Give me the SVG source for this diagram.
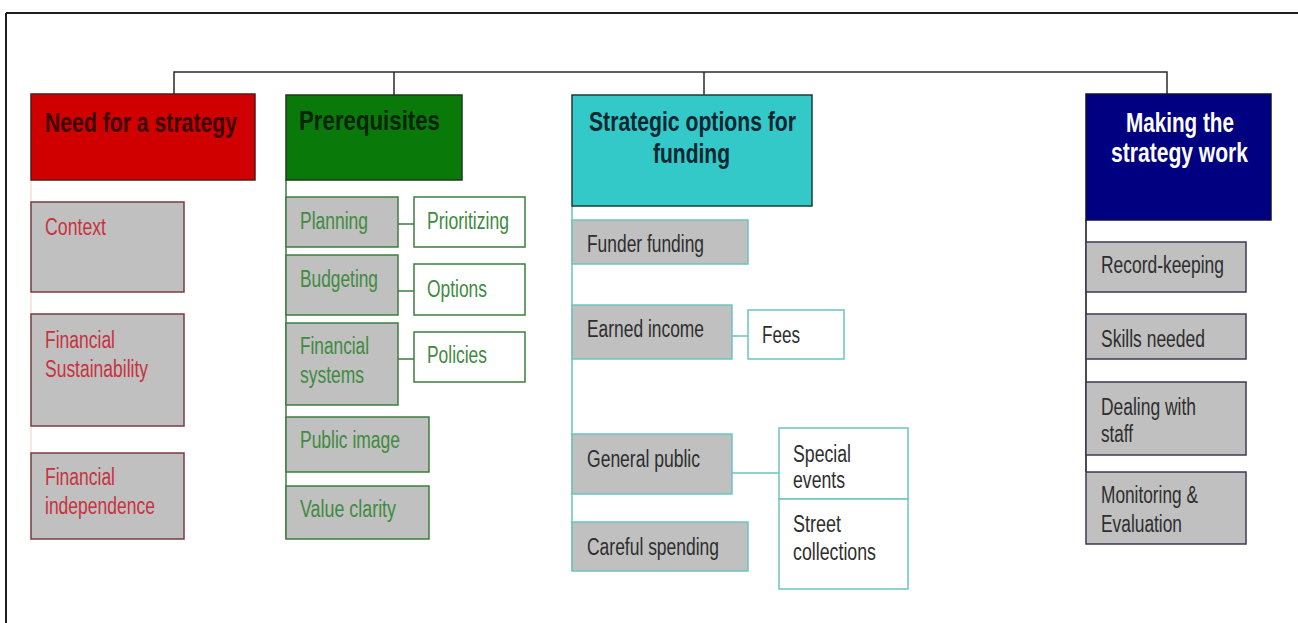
<svg xmlns="http://www.w3.org/2000/svg" width="1298" height="623" viewBox="0 0 1298 623">
<style>
text{font-family:"Liberation Sans",Arial,sans-serif;}
.hd{font-weight:bold;font-size:27px;}
.t{font-size:23px;}
.red .box{fill:#c0c0c0;stroke:#7a3c44;stroke-width:1.5;}
.red text{fill:#c8323e;}
.grn .box{fill:#c0c0c0;stroke:#3d7d3d;stroke-width:1.5;}
.grn .wbox{fill:#fff;stroke:#3d7d3d;stroke-width:1.5;}
.grn text{fill:#3f8a3f;}
.cyn .box{fill:#c0c0c0;stroke:#6cc4c4;stroke-width:1.5;}
.cyn .wbox{fill:#fff;stroke:#6cc4c4;stroke-width:1.5;}
.cyn text,.nav text{fill:#2e2e2e;}
.nav .box{fill:#c0c0c0;stroke:#3a3a58;stroke-width:1.5;}
</style>
<rect width="1298" height="623" fill="#fff"/>
<g id="frame" fill="none" stroke="#1e1e1e" stroke-width="2">
<path d="M6 13H1298M6 13V623"/>
</g>
<g id="connectors" fill="none" stroke-width="1.5">
<path d="M174 94V72H1167V94M394 72V95M704 72V95" stroke="#2a2a2a"/>
<path d="M31 180V539" stroke="#f6dede"/>
<path d="M286 180V539M398 224H414M398 291H414M398 359H414" stroke="#3d7d3d"/>
<path d="M572 206V571M732 336H748M732 473H779" stroke="#6cc4c4"/>
<path d="M1086 220V472" stroke="#111"/>
</g>
<g id="need" class="red">
<rect x="31" y="94" width="224" height="86" fill="#d00000" stroke="#5a1818" stroke-width="1.5"/>
<text class="hd" x="45" y="132" textLength="192" lengthAdjust="spacingAndGlyphs" style="fill:#3c0606">Need for a strategy</text>
</g>
<g id="context" class="red"><rect class="box" x="31" y="202" width="153" height="90"/>
<text class="t" x="45" y="235" textLength="61" lengthAdjust="spacingAndGlyphs">Context</text></g>
<g id="fin-sust" class="red"><rect class="box" x="31" y="314" width="153" height="112"/>
<text class="t" x="45" y="348" textLength="70" lengthAdjust="spacingAndGlyphs">Financial</text>
<text class="t" x="45" y="377" textLength="103" lengthAdjust="spacingAndGlyphs">Sustainability</text></g>
<g id="fin-indep" class="red"><rect class="box" x="31" y="453" width="153" height="86"/>
<text class="t" x="45" y="485" textLength="70" lengthAdjust="spacingAndGlyphs">Financial</text>
<text class="t" x="45" y="514" textLength="110" lengthAdjust="spacingAndGlyphs">independence</text></g>

<g id="prereq" class="grn">
<rect x="286" y="95" width="176" height="85" fill="#097a09" stroke="#1a3a1a" stroke-width="1.5"/>
<text class="hd" x="299" y="130" textLength="141" lengthAdjust="spacingAndGlyphs" style="fill:#0a240a">Prerequisites</text>
</g>
<g id="planning" class="grn"><rect class="box" x="286" y="197" width="112" height="50"/>
<text class="t" x="300" y="229" textLength="68" lengthAdjust="spacingAndGlyphs">Planning</text></g>
<g id="prioritizing" class="grn"><rect class="wbox" x="414" y="197" width="111" height="50"/>
<text class="t" x="427" y="229" textLength="82" lengthAdjust="spacingAndGlyphs">Prioritizing</text></g>
<g id="budgeting" class="grn"><rect class="box" x="286" y="255" width="112" height="60"/>
<text class="t" x="300" y="287" textLength="78" lengthAdjust="spacingAndGlyphs">Budgeting</text></g>
<g id="options" class="grn"><rect class="wbox" x="414" y="264" width="111" height="51"/>
<text class="t" x="427" y="297" textLength="60" lengthAdjust="spacingAndGlyphs">Options</text></g>
<g id="fin-systems" class="grn"><rect class="box" x="286" y="323" width="112" height="82"/>
<text class="t" x="300" y="354" textLength="69" lengthAdjust="spacingAndGlyphs">Financial</text>
<text class="t" x="300" y="383" textLength="64" lengthAdjust="spacingAndGlyphs">systems</text></g>
<g id="policies" class="grn"><rect class="wbox" x="414" y="332" width="111" height="50"/>
<text class="t" x="427" y="363" textLength="60" lengthAdjust="spacingAndGlyphs">Policies</text></g>
<g id="public-image" class="grn"><rect class="box" x="286" y="417" width="143" height="55"/>
<text class="t" x="300" y="448" textLength="100" lengthAdjust="spacingAndGlyphs">Public image</text></g>
<g id="value-clarity" class="grn"><rect class="box" x="286" y="486" width="143" height="53"/>
<text class="t" x="300" y="517" textLength="96" lengthAdjust="spacingAndGlyphs">Value clarity</text></g>

<g id="strategic" class="cyn">
<rect x="572" y="95" width="240" height="111" fill="#33c9c9" stroke="#1a3c3c" stroke-width="1.5"/>
<text class="hd" x="589" y="131" textLength="207" lengthAdjust="spacingAndGlyphs" style="fill:#0a2630">Strategic options for</text>
<text class="hd" x="653" y="163" textLength="77" lengthAdjust="spacingAndGlyphs" style="fill:#0a2630">funding</text>
</g>
<g id="funder" class="cyn"><rect class="box" x="572" y="220" width="176" height="44"/>
<text class="t" x="587" y="252" textLength="117" lengthAdjust="spacingAndGlyphs">Funder funding</text></g>
<g id="earned" class="cyn"><rect class="box" x="572" y="305" width="160" height="54"/>
<text class="t" x="587" y="337" textLength="117" lengthAdjust="spacingAndGlyphs">Earned income</text></g>
<g id="fees" class="cyn"><rect class="wbox" x="748" y="310" width="96" height="49"/>
<text class="t" x="762" y="343" textLength="38" lengthAdjust="spacingAndGlyphs">Fees</text></g>
<g id="general" class="cyn"><rect class="box" x="572" y="434" width="160" height="60"/>
<text class="t" x="587" y="467" textLength="113" lengthAdjust="spacingAndGlyphs">General public</text></g>
<g id="special" class="cyn"><rect class="wbox" x="779" y="428" width="129" height="71"/>
<text class="t" x="793" y="462" textLength="58" lengthAdjust="spacingAndGlyphs">Special</text>
<text class="t" x="793" y="488" textLength="52" lengthAdjust="spacingAndGlyphs">events</text></g>
<g id="street" class="cyn"><rect class="wbox" x="779" y="499" width="129" height="90"/>
<text class="t" x="793" y="532" textLength="48" lengthAdjust="spacingAndGlyphs">Street</text>
<text class="t" x="793" y="560" textLength="83" lengthAdjust="spacingAndGlyphs">collections</text></g>
<g id="careful" class="cyn"><rect class="box" x="572" y="522" width="176" height="49"/>
<text class="t" x="587" y="555" textLength="132" lengthAdjust="spacingAndGlyphs">Careful spending</text></g>

<g id="making" class="nav">
<rect x="1086" y="94" width="185" height="126" fill="#000080" stroke="#10103a" stroke-width="1.5"/>
<text class="hd" x="1126" y="132" textLength="108" lengthAdjust="spacingAndGlyphs" style="fill:#fff">Making the</text>
<text class="hd" x="1111" y="162" textLength="137" lengthAdjust="spacingAndGlyphs" style="fill:#fff">strategy work</text>
</g>
<g id="record" class="nav"><rect class="box" x="1086" y="242" width="160" height="50"/>
<text class="t" x="1101" y="273" textLength="123" lengthAdjust="spacingAndGlyphs">Record-keeping</text></g>
<g id="skills" class="nav"><rect class="box" x="1086" y="314" width="160" height="45"/>
<text class="t" x="1101" y="347" textLength="104" lengthAdjust="spacingAndGlyphs">Skills needed</text></g>
<g id="dealing" class="nav"><rect class="box" x="1086" y="382" width="160" height="73"/>
<text class="t" x="1101" y="415" textLength="95" lengthAdjust="spacingAndGlyphs">Dealing with</text>
<text class="t" x="1101" y="442" textLength="32" lengthAdjust="spacingAndGlyphs">staff</text></g>
<g id="monitoring" class="nav"><rect class="box" x="1086" y="472" width="160" height="72"/>
<text class="t" x="1101" y="503" textLength="97" lengthAdjust="spacingAndGlyphs">Monitoring &amp;</text>
<text class="t" x="1101" y="532" textLength="81" lengthAdjust="spacingAndGlyphs">Evaluation</text></g>
</svg>
